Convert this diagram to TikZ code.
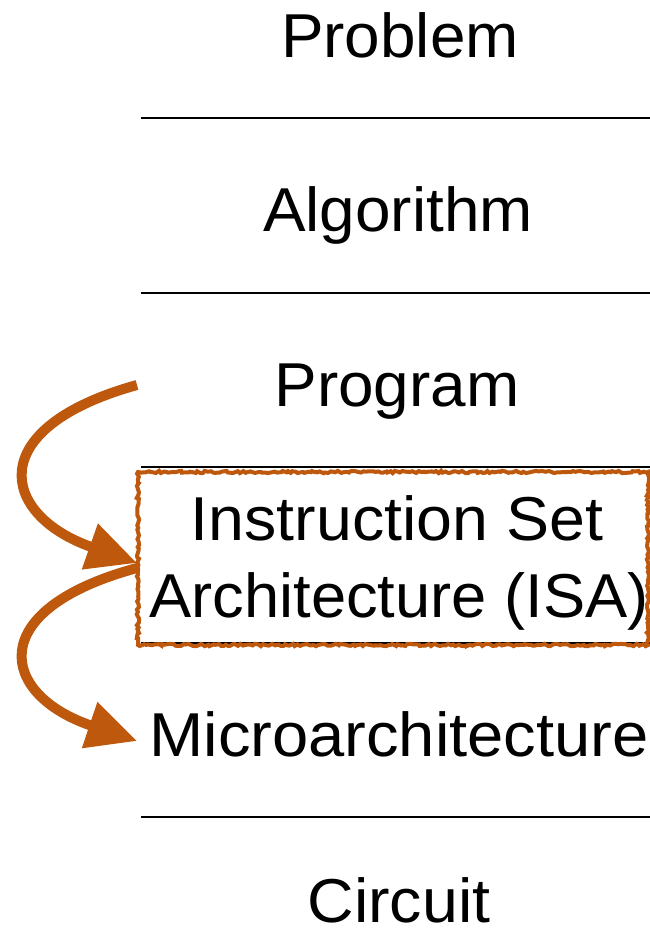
\documentclass[tikz,border=0pt]{standalone}
\usepackage{fontspec}
\setmainfont{Liberation Sans}
\usetikzlibrary{arrows.meta,decorations.pathmorphing}
\definecolor{rust}{RGB}{190,88,12}
\begin{document}
\begin{tikzpicture}[x=1pt,y=-1pt,
  lvl/.style={anchor=base,inner sep=0pt,font=\fontsize{62}{74}\selectfont},
  sep/.style={line width=2pt,black},
  flow/.style={line width=10pt,rust,-{Triangle[length=50pt,width=46pt]}},
  rough/.style={draw=rust,line width=4pt,decorate,decoration={random steps,segment length=2.5pt,amplitude=1.2pt}}]
\useasboundingbox (0,0) rectangle (650,931);
\node[lvl] (problem) at (400,58) {\scalebox{1.03}[1]{Problem}};
\node[lvl] (algorithm) at (398,231) {\scalebox{1.03}[1]{Algorithm}};
\node[lvl] (program) at (397,406) {\scalebox{1.03}[1]{Program}};
\node[lvl] (isa1) at (397,540) {\scalebox{1.04}[1]{Instruction Set}};
\node[lvl] (isa2) at (399,617) {\scalebox{1.02}[1]{Architecture (ISA)}};
\node[lvl] (micro) at (399,756) {\scalebox{1.05}[1]{Microarchitecture}};
\node[lvl] (circuit) at (399,922) {\scalebox{1.04}[1]{Circuit}};
\foreach \y/\n in {118/a,293/b,467/c,643/d,817/e}{
  \coordinate (l\n) at (141,\y);
  \coordinate (r\n) at (650,\y);
  \draw[sep] (l\n) -- (r\n);
}
\coordinate (boxA) at (138,472);
\coordinate (boxB) at (648,645);
\draw[rough] (boxA) rectangle (boxB);
\coordinate (s1) at (137,385);
\coordinate (t1) at (137,563);
\coordinate (s2) at (137,568);
\coordinate (t2) at (137,741);
\draw[flow] (s1) .. controls (-18,428) and (0,515) .. (t1);
\draw[flow] (s2) .. controls (-18,610) and (0,695) .. (t2);
\end{tikzpicture}
\end{document}
